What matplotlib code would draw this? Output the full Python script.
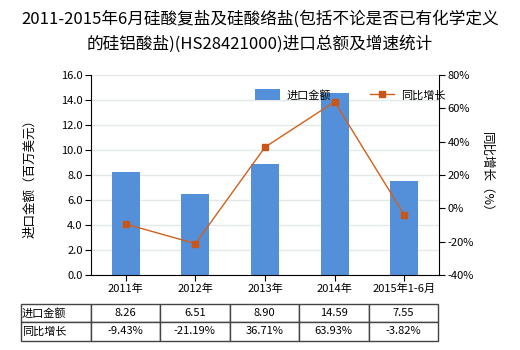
import matplotlib
matplotlib.use("Agg")
import matplotlib.pyplot as plt
import numpy as np

plt.rcParams['font.family'] = ['Noto Sans CJK SC', 'DejaVu Sans']

categories = ["2011年", "2012年", "2013年", "2014年", "2015年1-6月"]
import_values = [8.26, 6.51, 8.90, 14.59, 7.55]
growth_values = [-9.43, -21.19, 36.71, 63.93, -3.82]
left_ticks = [0, 2, 4, 6, 8, 10, 12, 14, 16]
right_ticks = [-40, -20, 0, 20, 40, 60, 80]
row_labels = ["进口金额", "同比增长"]

W, H = 520, 350
fig = plt.figure(figsize=(W/100, H/100), dpi=100)

def box(x0, y0, x1, y1):
    return [x0/W, 1 - y1/H, (x1-x0)/W, (y1-y0)/H]

ax = fig.add_axes(box(91, 75, 439, 275))
x = np.arange(len(categories))
bar_color = '#5390d9'
line_color = '#d2601a'
ax.bar(x, import_values, width=0.4, color=bar_color, zorder=2, label="进口金额")
ax.set_xlim(-0.5, len(categories) - 0.5)
ax.set_ylim(0, 16)
ax.set_yticks(left_ticks)
ax.set_yticklabels([f"{v:.1f}" for v in left_ticks], fontsize=8)
ax.set_xticks(x)
ax.set_xticklabels(categories, fontsize=8)
ax.grid(axis='y', color='#e3e9e9', linewidth=1, zorder=0)
ax.set_axisbelow(True)
for s in ['top', 'right']:
    ax.spines[s].set_visible(False)
ax.spines['left'].set_color('black')
ax.spines['bottom'].set_color('black')
ax.tick_params(axis='both', length=4, color='black', pad=2)
ax.set_ylabel("进口金额（百万美元）", fontsize=9, labelpad=18)

ax2 = ax.twinx()
ax2.plot(x, growth_values, color=line_color, linewidth=1, marker='s', markersize=5,
         markerfacecolor='#c8561a', markeredgecolor='#c8561a',
         zorder=3, label="同比增长")
ax2.set_ylim(-40, 80)
ax2.set_yticks(right_ticks)
ax2.set_yticklabels([f"{v}%" for v in right_ticks], fontsize=8)
for s in ['top', 'left', 'bottom']:
    ax2.spines[s].set_visible(False)
ax2.spines['right'].set_color('black')
ax2.tick_params(axis='y', length=4, color='black', pad=2)
ax2.set_ylabel("同比增长（%）", fontsize=9, rotation=-90, labelpad=14)

h1, l1 = ax.get_legend_handles_labels()
h2, l2 = ax2.get_legend_handles_labels()
ax2.legend(h1 + h2, l1 + l2, loc='upper center', bbox_to_anchor=(0.745, 0.98),
           ncol=2, frameon=False, fontsize=8, handlelength=2.2, handleheight=1.2,
           columnspacing=3.5, handletextpad=0.6)

fig.text(0.5, 1 - 19/H, "2011-2015年6月硅酸复盐及硅酸络盐(包括不论是否已有化学定义",
         ha='center', va='center', fontsize=12)
fig.text(0.5, 1 - 44/H, "的硅铝酸盐)(HS28421000)进口总额及增速统计",
         ha='center', va='center', fontsize=12)

tax = fig.add_axes(box(20.5, 304.3, 438, 340.5))
tax.axis('off')
cell_text = [[f"{v:.2f}" for v in import_values],
             [f"{v:.2f}%" for v in growth_values]]
full = [[row_labels[i]] + cell_text[i] for i in range(2)]
first_w = 70
other_w = (438 - 20.5 - first_w) / len(categories)
total = first_w + other_w * len(categories)
tbl = tax.table(cellText=full, bbox=[0, 0, 1, 1],
                colWidths=[first_w/total] + [other_w/total]*len(categories),
                cellLoc='center')
tbl.auto_set_font_size(False)
tbl.set_fontsize(8)
for (r, c), cell in tbl.get_celld().items():
    cell.set_edgecolor('#444444')
    cell.set_linewidth(1)
    if c == 0:
        cell.get_text().set_ha('left')
        cell.PAD = 0.02

fig.savefig("out.png", dpi=100)
